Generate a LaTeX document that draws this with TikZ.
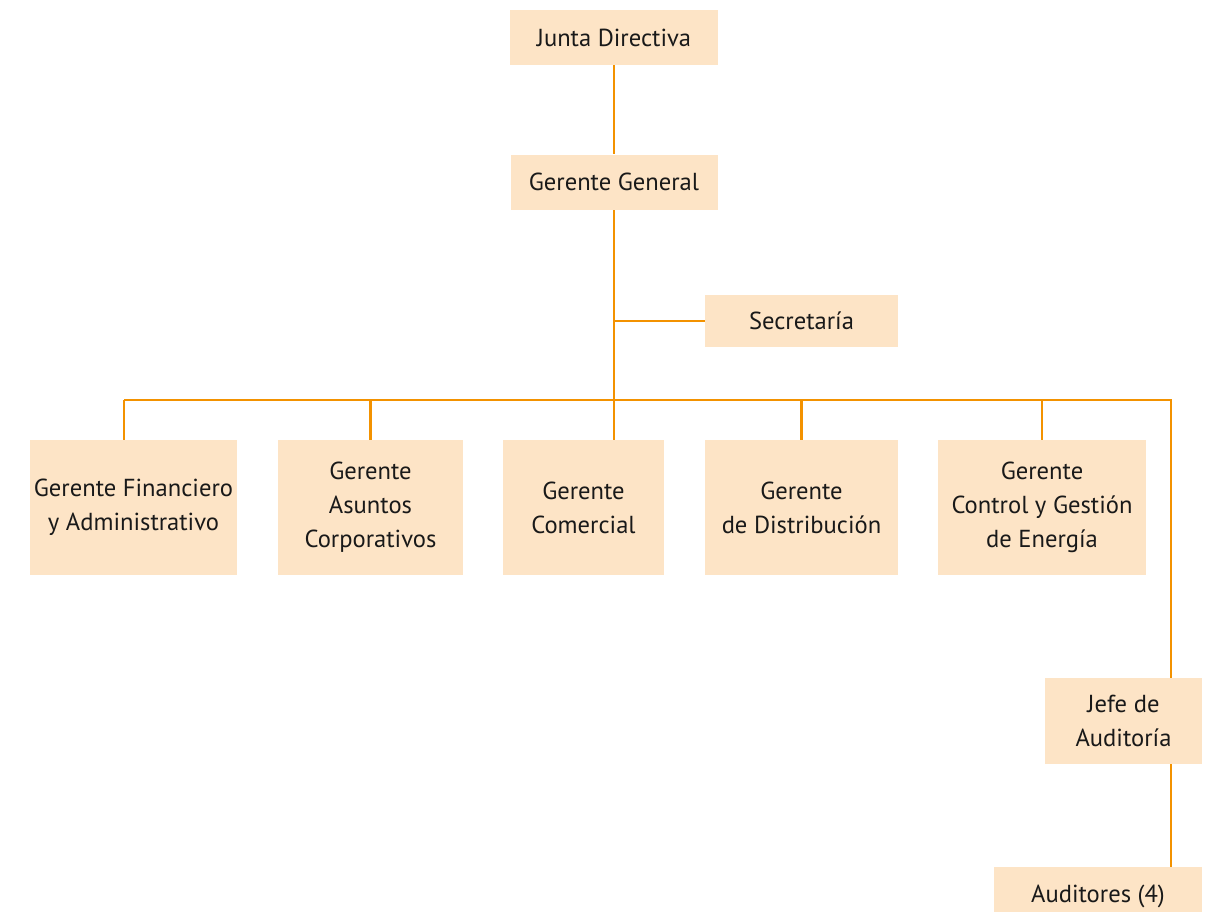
\documentclass[tikz,border=0pt]{standalone}
\usepackage{fontspec}
\setmainfont{PT Sans}
\usetikzlibrary{positioning,calc}
\definecolor{boxfill}{HTML}{FDE4C6}
\definecolor{lineorange}{HTML}{F39200}
\newlength\pxu
\setlength\pxu{0.02cm}

\begin{document}
\begin{tikzpicture}[x=0.02cm, y=-0.02cm,
    org box/.style={fill=boxfill, align=center, inner sep=0pt, text=black!90,
        font=\fontsize{14}{19.3}\selectfont},
    row box/.style={org box, minimum height=135\pxu},
    org line/.style={draw=lineorange, line width=2.2\pxu}]
    \useasboundingbox (0,0) rectangle (1211,912);
    \clip (0,0) rectangle (1211,912);

    \node[org box, minimum width=208\pxu, minimum height=55\pxu] (junta) at (614,37.5) {Junta Directiva};
    \node[org box, minimum width=207\pxu, minimum height=55\pxu, below=89\pxu of junta] (gergen) {Gerente General};
    \node[org box, minimum width=193\pxu, minimum height=52\pxu] (secre) at (801.5,321) {Secretaría};

    \node[row box, minimum width=207\pxu] (finan) at (133.5,507.5) {Gerente Financiero\\y Administrativo};
    \node[row box, minimum width=185\pxu] (asuntos) at (370.5,507.5) {Gerente\\Asuntos\\Corporativos};
    \node[row box, minimum width=161\pxu] (comerc) at (583.5,507.5) {Gerente\\Comercial};
    \node[row box, minimum width=193\pxu] (distri) at (801.5,507.5) {Gerente\\de Distribución};
    \node[row box, minimum width=208\pxu] (energia) at (1042,507.5) {Gerente\\Control y Gestión\\de Energía};

    \node[org box, minimum width=157\pxu, minimum height=86\pxu] (jefe) at (1123.5,721) {Jefe de\\Auditoría};
    \node[org box, minimum width=208\pxu, minimum height=58\pxu] (audit) at (1098,896) {Auditores (4)};

    \coordinate (busL) at (124,400);
    \coordinate (busR) at (1171,400);

    \draw[org line] (junta) -- (gergen);
    \draw[org line] (gergen.south) -- (gergen.south |- comerc.north);
    \draw[org line] (gergen.south |- secre.west) -- (secre.west);
    \draw[org line] (busL) -- (busR) -- (busR |- jefe.north);
    \draw[org line] (busL) -- (busL |- finan.north);
    \draw[org line] (asuntos.north) -- (asuntos.north |- busL);
    \draw[org line] (distri.north) -- (distri.north |- busL);
    \draw[org line] (energia.north) -- (energia.north |- busL);
    \draw[org line] (jefe.south -| busR) -- (audit.north -| busR);
\end{tikzpicture}
\end{document}
